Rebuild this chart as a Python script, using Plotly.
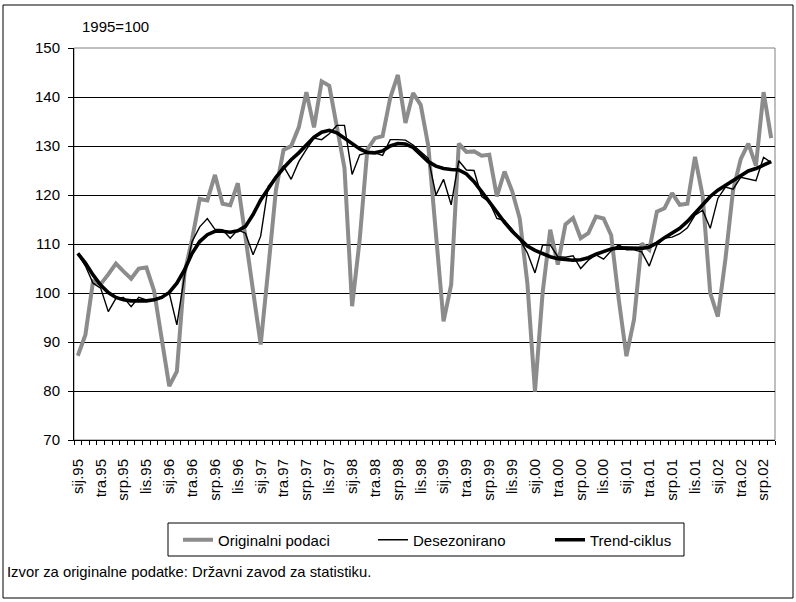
import plotly.graph_objects as go

# ---- data ----
months = ["sij", "velj", "ožu", "tra", "svi", "lip", "srp", "kol", "ruj", "lis", "stu", "pro"]
years = ["95", "96", "97", "98", "99", "00", "01", "02"]
n_points = 92  # sij.95 ... kol.02
categories = [f"{months[i % 12]}.{years[i // 12]}" for i in range(n_points)]

originalni = [
    87.2, 91.5, 102.4, 101.8, 103.8, 106.0, 104.4, 102.9, 105.0, 105.2, 100.5, 91.0,
    81.0, 84.0, 104.0, 111.0, 119.2, 118.9, 124.1, 118.2, 117.9, 122.4, 111.0, 99.5,
    89.5, 105.0, 121.0, 129.2, 130.0, 133.8, 141.0, 133.8, 143.2, 142.3, 134.0, 125.5,
    97.3, 111.0, 129.3, 131.6, 132.0, 139.8, 144.5, 134.7, 140.8, 138.4, 130.0, 112.0,
    94.2, 101.7, 130.5, 128.8, 128.9, 128.0, 128.2, 119.7, 124.8, 120.8, 115.2, 102.0,
    79.9, 100.0, 112.9, 105.8, 114.0, 115.3, 111.2, 112.2, 115.6, 115.2, 111.8, 98.6,
    87.1, 94.6, 110.1, 108.8, 116.6, 117.3, 120.4, 118.0, 118.2, 127.8, 119.9, 100.0,
    95.2, 107.0, 121.0, 127.3, 130.5, 126.0, 141.0, 131.6,
]

desezonirano = [
    108.0, 105.5, 102.0, 101.0, 96.2, 98.9, 99.1, 97.2, 99.1, 98.6, 98.7, 99.2,
    100.0, 93.5, 103.5, 110.5, 113.5, 115.2, 113.0, 112.9, 111.2, 112.9, 112.2, 107.8,
    111.6, 121.8, 123.5, 125.9, 123.2, 126.8, 129.3, 131.6, 131.3, 132.5, 134.2, 134.2,
    124.2, 128.2, 128.6, 128.6, 128.1, 131.3, 131.3, 131.2, 130.2, 128.8, 127.5, 120.0,
    123.2, 118.0, 127.0, 125.1, 125.0, 119.7, 118.6, 115.2, 114.8, 113.0, 110.9, 108.2,
    104.1, 109.8, 109.8, 107.4, 107.3, 107.6, 105.0, 106.7, 107.8, 106.9, 108.6, 109.8,
    108.8, 108.8, 108.4, 105.5, 109.8, 111.2, 111.4, 112.1, 113.3, 115.9, 116.9, 113.2,
    119.3, 121.6, 121.2, 123.6, 123.2, 122.9, 127.7, 126.6,
]

trend = [
    108.1, 106.1, 103.7, 101.6, 100.1, 99.1, 98.6, 98.4, 98.4, 98.4, 98.6, 99.1,
    100.1, 102.0, 104.7, 108.1, 110.5, 111.9, 112.6, 112.6, 112.4, 112.7, 113.6, 116.0,
    119.0, 121.4, 123.6, 125.5, 127.2, 128.6, 130.3, 131.8, 132.8, 133.2, 132.7, 131.6,
    130.5, 129.4, 128.7, 128.6, 129.0, 130.0, 130.5, 130.4, 129.7, 128.2, 126.8, 125.9,
    125.4, 125.2, 125.1, 124.3, 122.7, 120.7, 118.6, 116.4, 114.4, 112.6, 111.0, 109.6,
    108.7, 108.0, 107.4, 107.0, 106.8, 106.7, 106.8, 107.2, 107.9, 108.5, 109.0, 109.2,
    109.2, 109.1, 109.1, 109.4, 110.2, 111.3, 112.2, 113.2, 114.6, 116.3, 118.0, 119.7,
    121.0, 122.0, 123.1, 124.1, 124.9, 125.4, 126.1, 126.8,
]

series_names = ["Originalni podaci", "Desezonirano", "Trend-ciklus"]
tick_idx = list(range(0, n_points, 3))
tick_labels = [categories[i] for i in tick_idx]
y_ticks = [70, 80, 90, 100, 110, 120, 130, 140, 150]

x_idx = list(range(n_points))
FONT = "Arial, Liberation Sans, sans-serif"

fig = go.Figure()
fig.add_trace(go.Scatter(x=x_idx, y=originalni, name=series_names[0], mode="lines",
                         line=dict(color="#8c8c8c", width=4), text=categories,
                         legend="legend",
                         hovertemplate="%{text}: %{y}<extra></extra>"))
fig.add_trace(go.Scatter(x=x_idx, y=desezonirano, name=series_names[1], mode="lines",
                         line=dict(color="#000000", width=1.4), text=categories,
                         legend="legend2",
                         hovertemplate="%{text}: %{y}<extra></extra>"))
fig.add_trace(go.Scatter(x=x_idx, y=trend, name=series_names[2], mode="lines",
                         line=dict(color="#000000", width=3.6), text=categories,
                         legend="legend3",
                         hovertemplate="%{text}: %{y}<extra></extra>"))

L, R, T, B = 74, 21, 48, 162
W, H = 796, 602
pw, ph = W - L - R, H - T - B

def px_x(p):
    return (p - L) / pw

def px_y(p):
    return (H - B - p) / ph

def leg(text_start):
    return dict(orientation="h", x=px_x(text_start - 40), xanchor="left",
                y=px_y(540), yanchor="middle", bgcolor="rgba(0,0,0,0)",
                borderwidth=0, font=dict(size=15), itemwidth=30)

fig.update_layout(
    width=W, height=H,
    margin=dict(l=L, r=R, t=T, b=B),
    paper_bgcolor="white", plot_bgcolor="white",
    font=dict(family=FONT, size=15, color="black"),
    showlegend=True,
    legend=leg(218), legend2=leg(413), legend3=leg(590),
    xaxis=dict(range=[-0.5, n_points - 0.5], tickvals=tick_idx, ticktext=tick_labels,
               tickangle=-90, ticks="outside", ticklen=12, tickcolor="rgba(0,0,0,0)",
               tickfont=dict(size=15), showgrid=False, zeroline=False,
               showline=True, linecolor="black", linewidth=1,
               minor=dict(ticks="outside", ticklen=4, tickcolor="black",
                          tick0=-0.5, dtick=1, showgrid=False)),
    yaxis=dict(range=[70, 150], tickvals=y_ticks, ticks="outside", ticklen=5,
               tickcolor="black", showgrid=True, gridcolor="black", gridwidth=1,
               zeroline=False, showline=True, linecolor="black", linewidth=1,
               ticklabelstandoff=5, tickfont=dict(size=15)),
    shapes=[
        dict(type="rect", xref="paper", yref="paper", x0=0, x1=1, y0=0, y1=1,
             line=dict(color="#808080", width=1), layer="between"),
        dict(type="rect", xref="paper", yref="paper",
             x0=px_x(168), x1=px_x(684), y0=px_y(556), y1=px_y(523),
             line=dict(color="black", width=1), layer="above"),
        dict(type="rect", xref="paper", yref="paper",
             x0=px_x(3), x1=px_x(793), y0=px_y(598), y1=px_y(5),
             line=dict(color="black", width=1), layer="above"),
    ],
    annotations=[
        dict(text="1995=100", xref="paper", yref="paper", x=px_x(80), y=px_y(27),
             xanchor="left", yanchor="middle", showarrow=False, font=dict(size=15)),
        dict(text="Izvor za originalne podatke: Državni zavod za statistiku.",
             xref="paper", yref="paper", x=px_x(5), y=px_y(572),
             xanchor="left", yanchor="middle", showarrow=False, font=dict(size=14.8)),
    ],
)

fig.write_html("out.html", config={"displayModeBar": False},
               post_script="document.body.style.margin='0';")
